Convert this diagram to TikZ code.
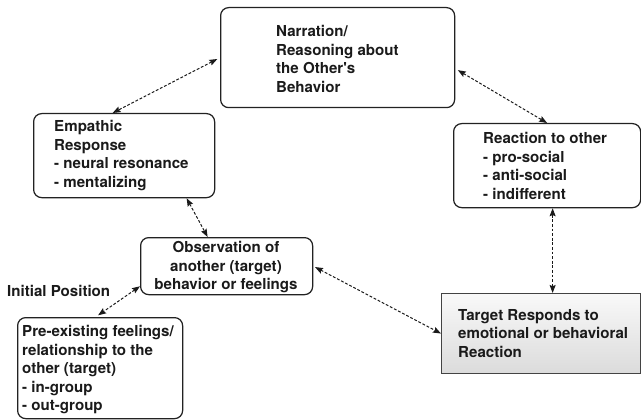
\documentclass[tikz,border=0pt]{standalone}
\usepackage{fontspec}
\setmainfont{TeX Gyre Heros}
\usetikzlibrary{arrows.meta}
\definecolor{ink}{HTML}{1A1A1A}
\definecolor{edge}{HTML}{222222}
\tikzset{
  rbox/.style={draw=edge, line width=1.25pt, rounded corners=8pt, inner sep=0pt, anchor=north west},
  sbox/.style={draw=edge!85, line width=1.1pt, inner sep=0pt, anchor=north west,
    top color=gray!5, bottom color=gray!28},
  txt/.style={inner sep=0pt, align=left, anchor=north west, text=ink,
    font=\bfseries\fontsize{15.1}{18.5}\selectfont},
  link/.style={line width=1pt, draw=ink, dash pattern=on 2.8pt off 1.8pt,
    {Stealth[length=8pt,width=6pt,inset=1.2pt]}-{Stealth[length=8pt,width=6pt,inset=1.2pt]}}
}
\begin{document}
\begin{tikzpicture}[x=1pt,y=-1pt]
\useasboundingbox (0,0) rectangle (641,420);
% boxes
\node[rbox, minimum width=234pt, minimum height=100pt] (narr) at (220,7) {};
\node[rbox, minimum width=181pt, minimum height=84pt] (emp) at (33,113) {};
\node[rbox, minimum width=187pt, minimum height=84pt] (react) at (453,123) {};
\node[rbox, minimum width=172pt, minimum height=57pt] (obs) at (140,237) {};
\node[rbox, minimum width=165pt, minimum height=101pt] (pre) at (17,317) {};
\node[sbox, minimum width=199pt, minimum height=80pt] (tgt) at (441,293) {};
% texts
\node[txt] (narrt) at (276,25.1) {Narration/\\Reasoning about\\the Other\textquotesingle s\\Behavior};
\node[txt] (empt) at (54,120.1) {Empathic\\Response\\- neural resonance\\- mentalizing};
\node[txt] (reactt) at (483,132.1) {Reaction to other\\- pro-social\\- anti-social\\- indifferent};
\node[txt, align=center, anchor=north] (obst) at (226,241.1) {Observation of\\another (target)\\behavior or feelings};
\node[txt] (pret) at (22,325.1) {Pre-existing feelings/\\relationship to the\\other (target)\\- in-group\\- out-group};
\node[txt] (tgtt) at (458,309.1) {Target Responds to\\emotional or behavioral\\Reaction};
\node[txt] (init) at (7,285.1) {Initial Position};
% connectors
\draw[link, shorten <=3pt] (narr.west) -- ([xshift=-11.5pt]emp.north);
\draw[link, shorten <=3pt] ([yshift=-11pt]narr.east) -- (react.north);
\draw[link] ([xshift=62.5pt]emp.south) -- ([xshift=-19pt]obs.north);
\draw[link, shorten >=3pt] ([yshift=9pt]obs.south west) -- ([xshift=-4.5pt]pre.north);
\draw[link, shorten <=2pt] (obs.east) -- (tgt.west);
\draw[link] ([xshift=5.5pt]react.south) -- ([xshift=5.5pt]react.south |- tgt.north);
\end{tikzpicture}
\end{document}
